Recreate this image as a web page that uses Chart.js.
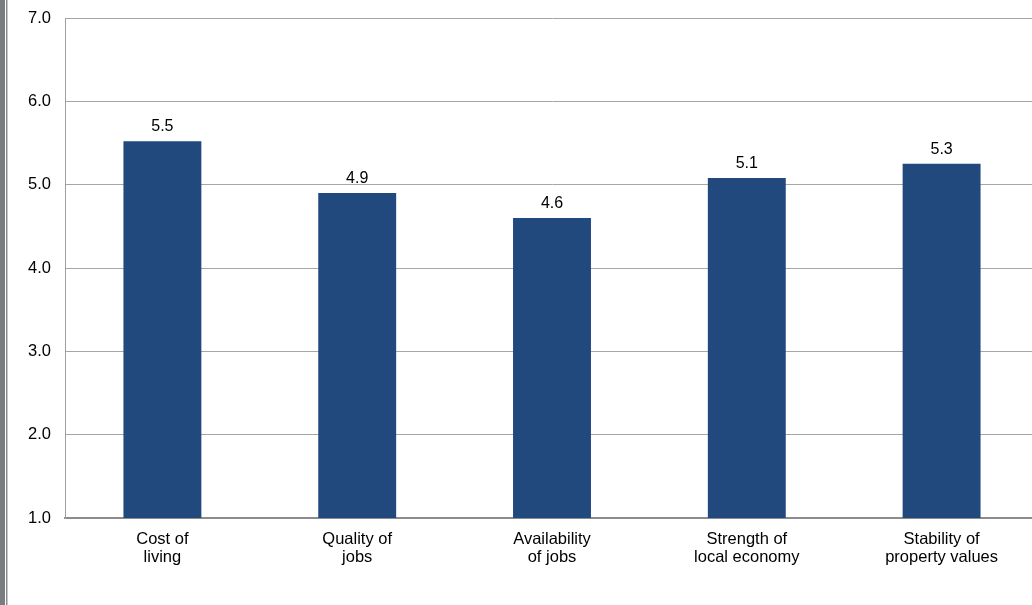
<!DOCTYPE html>
<html>
<head>
<meta charset="utf-8">
<script src="https://cdn.jsdelivr.net/npm/chart.js@4/dist/chart.umd.min.js"></script>
<style>
html,body{margin:0;padding:0;background:#fff;overflow:hidden;}
#wrap{position:relative;width:1032px;height:605px;overflow:hidden;}
</style>
</head>
<body>
<div id="wrap"><canvas id="c" width="1039" height="605"></canvas></div>
<script>
const categories = [["Cost of","living"],["Quality of","jobs"],["Availability","of jobs"],["Strength of","local economy"],["Stability of","property values"]];
const values = [5.52, 4.90, 4.60, 5.08, 5.25];
const valueLabels = ["5.5","4.9","4.6","5.1","5.3"];
const yTicks = [1,2,3,4,5,6,7];

const FONT = "'Liberation Sans', Arial, sans-serif";

const sidePlugin = {
  id: 'side',
  beforeDraw(chart){
    const ctx = chart.ctx;
    ctx.save();
    ctx.fillStyle = '#fff';
    ctx.fillRect(0,0,chart.width,chart.height);
    ctx.fillStyle = '#7a7d80';
    ctx.fillRect(0,0,5,chart.height);
    ctx.fillStyle = '#8a8d90';
    ctx.fillRect(6,0,1.5,chart.height);
    ctx.restore();
  }
};

const labelPlugin = {
  id: 'vlabels',
  afterDatasetsDraw(chart){
    const ctx = chart.ctx;
    const meta = chart.getDatasetMeta(0);
    ctx.save();
    ctx.font = '16px ' + FONT;
    ctx.fillStyle = '#000';
    ctx.textAlign = 'center';
    ctx.textBaseline = 'alphabetic';
    meta.data.forEach((bar,i)=>{
      ctx.fillText(valueLabels[i], bar.x, bar.y - 10);
    });
    ctx.restore();
  }
};

new Chart(document.getElementById('c'), {
  type: 'bar',
  data: {
    labels: categories,
    datasets: [{
      data: values,
      backgroundColor: '#21497d',
      borderWidth: 0,
      barPercentage: 0.4,
      categoryPercentage: 1.0
    }]
  },
  options: {
    responsive: false,
    animation: false,
    devicePixelRatio: 1,
    layout: { padding: { top: 18, right: 0, left: 0, bottom: 0 } },
    plugins: { legend: { display: false }, tooltip: { enabled: false } },
    scales: {
      x: {
        grid: { display: false, drawTicks: false },
        border: { display: true, color: '#8c8c8c', width: 2 },
        ticks: { color: '#000', font: { family: FONT, size: 16.5, lineHeight: 1.1 }, padding: 12, maxRotation: 0, autoSkip: false },
        afterFit(scale){ scale.height = 87; scale.paddingLeft = 0; scale.paddingRight = 0; }
      },
      y: {
        min: 1, max: 7,
        grid: { color: '#a6a6a6', lineWidth: 1, drawTicks: false },
        border: { display: true, color: '#a0a0a0', width: 1 },
        afterBuildTicks(scale){ scale.ticks = yTicks.map(v=>({value:v})); },
        ticks: {
          color: '#000', font: { family: FONT, size: 16.5 }, padding: 14,
          callback: (v)=> Number(v).toFixed(1)
        },
        afterFit(scale){ scale.width = 65; scale.paddingTop = 0; scale.paddingBottom = 0; }
      }
    }
  },
  plugins: [sidePlugin, labelPlugin]
});
</script>
</body>
</html>
